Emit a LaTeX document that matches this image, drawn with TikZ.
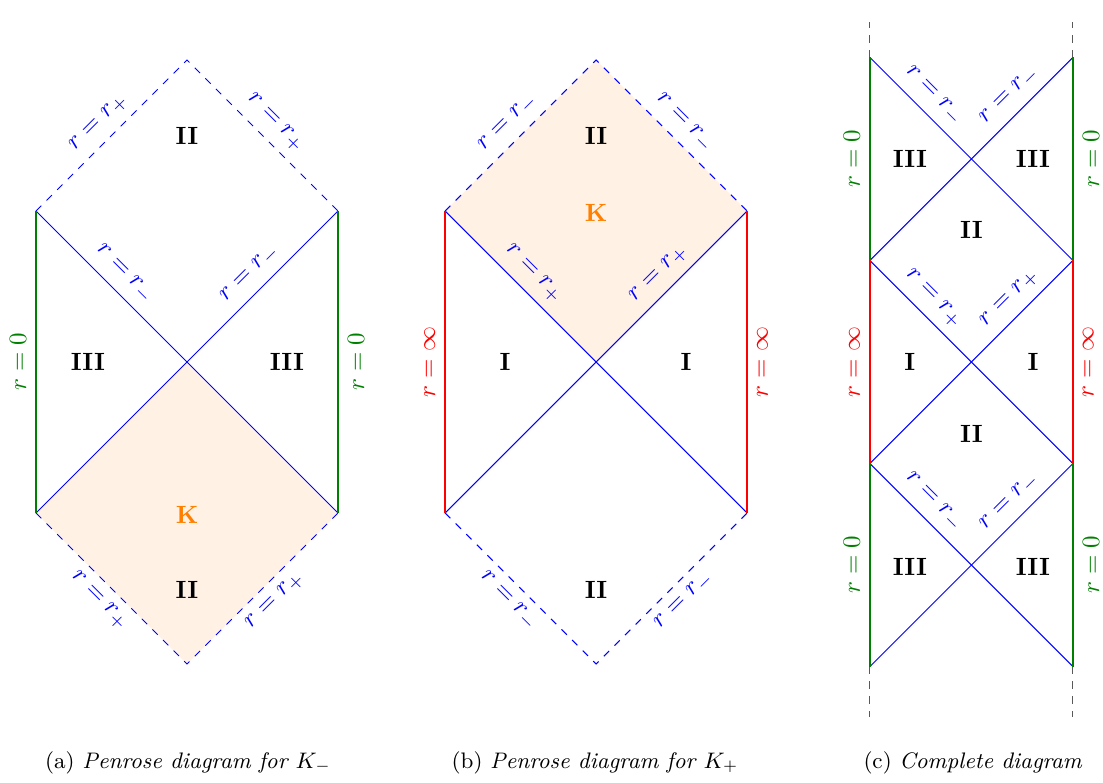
\documentclass[tikz,border=0pt]{standalone}
\usepackage{xcolor}
\usepackage{tikz}

\begin{document}
\begin{tikzpicture}[x=2.127cm, y=2.127cm,
    hor/.style={blue},
    hordash/.style={blue, dashed},
    rzero/.style={green!50!black, thick},
    rinf/.style={red, thick},
    ext/.style={gray!70!black, dashed},
    lab/.style={midway, sloped, inner sep=3.6pt},
    reg/.style={font=\bfseries},
    kfill/.style={fill=orange!10}]

    \useasboundingbox (-1.2384,-2.788) rectangle (6.0662,2.3974);

    % (a) Penrose diagram for K_-
    \coordinate (aT) at (0,2);
    \coordinate (aUL) at (-1,1);
    \coordinate (aUR) at (1,1);
    \coordinate (aC) at (0,0);
    \coordinate (aLL) at (-1,-1);
    \coordinate (aLR) at (1,-1);
    \coordinate (aB) at (0,-2);

    \fill[kfill] (aLL) -- (aC) -- (aLR) -- (aB) -- cycle;
    \draw[hordash] (aUL) -- node[lab, above] (a1) {$r=r_+$} (aT)
        -- node[lab, above] (a2) {$r=r_+$} (aUR);
    \draw[hordash] (aLL) -- node[lab, below] (a3) {$r=r_+$} (aB)
        -- node[lab, below] (a4) {$r=r_+$} (aLR);
    \draw[hor] (aUL) -- node[lab, above] (a5) {$r=r_-$} (aC) -- (aLR);
    \draw[hor] (aLL) -- (aC) -- node[lab, above] (a6) {$r=r_-$} (aUR);
    \draw[rzero] (aLL) -- node[lab, above] (a7) {$r=0$} (aUL);
    \draw[rzero] (aLR) -- node[lab, below] (a8) {$r=0$} (aUR);

    \node[reg] (aII) at (0,1.5) {II};
    \node[reg] (aIIIl) at (-0.656,0) {III};
    \node[reg] (aIIIr) at (0.662,0) {III};
    \node[reg, text=orange] (aK) at (0,-1.01) {K};
    \node[reg] (aIIb) at (0,-1.51) {II};

    % (b) Penrose diagram for K_+
    \begin{scope}[shift={(2.709,0)}]
        \coordinate (bT) at (0,2);
        \coordinate (bUL) at (-1,1);
        \coordinate (bUR) at (1,1);
        \coordinate (bC) at (0,0);
        \coordinate (bLL) at (-1,-1);
        \coordinate (bLR) at (1,-1);
        \coordinate (bB) at (0,-2);

        \fill[kfill] (bUL) -- (bT) -- (bUR) -- (bC) -- cycle;
        \draw[hordash] (bUL) -- node[lab, above] (b1) {$r=r_-$} (bT)
            -- node[lab, above] (b2) {$r=r_-$} (bUR);
        \draw[hordash] (bLL) -- node[lab, below] (b3) {$r=r_-$} (bB)
            -- node[lab, below] (b4) {$r=r_-$} (bLR);
        \draw[hor] (bUL) -- node[lab, above] (b5) {$r=r_+$} (bC) -- (bLR);
        \draw[hor] (bLL) -- (bC) -- node[lab, above] (b6) {$r=r_+$} (bUR);
        \draw[rinf] (bLL) -- node[lab, above] (b7) {$r=\infty$} (bUL);
        \draw[rinf] (bLR) -- node[lab, below] (b8) {$r=\infty$} (bUR);

        \node[reg] (bII) at (0,1.5) {II};
        \node[reg, text=orange] (bK) at (0,0.99) {K};
        \node[reg] (bIl) at (-0.603,0) {I};
        \node[reg] (bIr) at (0.596,0) {I};
        \node[reg] (bIIb) at (0,-1.51) {II};
    \end{scope}

    % (c) Complete diagram
    \begin{scope}[shift={(5.195,0)}, scale=0.6722]
        \foreach \y in {3,1,-1,-3} {
            \coordinate (cL\y) at (-1,\y);
            \coordinate (cR\y) at (1,\y);
        }
        \coordinate (cX2) at (0,2);
        \coordinate (cX0) at (0,0);
        \coordinate (cXm) at (0,-2);
        \coordinate (cLtop) at (-1,3.35);
        \coordinate (cRtop) at (1,3.35);
        \coordinate (cLbot) at (-1,-3.5);
        \coordinate (cRbot) at (1,-3.5);

        \draw[ext] (cL3) -- (cLtop);
        \draw[ext] (cR3) -- (cRtop);
        \draw[ext] (cL-3) -- (cLbot);
        \draw[ext] (cR-3) -- (cRbot);

        \draw[hor] (cL3) -- node[lab, above] (c1) {$r=r_-$} (cX2) -- (cR1);
        \draw[hor] (cL1) -- (cX2) -- node[lab, above] (c2) {$r=r_-$} (cR3);
        \draw[hor] (cL1) -- node[lab, above] (c3) {$r=r_+$} (cX0) -- (cR-1);
        \draw[hor] (cL-1) -- (cX0) -- node[lab, above] (c4) {$r=r_+$} (cR1);
        \draw[hor] (cL-1) -- node[lab, above] (c5) {$r=r_-$} (cXm) -- (cR-3);
        \draw[hor] (cL-3) -- (cXm) -- node[lab, above] (c6) {$r=r_-$} (cR-1);

        \draw[rzero] (cL1) -- node[lab, above] (c7) {$r=0$} (cL3);
        \draw[rzero] (cR1) -- node[lab, below] (c8) {$r=0$} (cR3);
        \draw[rinf] (cL-1) -- node[lab, above] (c9) {$r=\infty$} (cL1);
        \draw[rinf] (cR-1) -- node[lab, below] (c10) {$r=\infty$} (cR1);
        \draw[rzero] (cL-3) -- node[lab, above] (c11) {$r=0$} (cL-1);
        \draw[rzero] (cR-3) -- node[lab, below] (c12) {$r=0$} (cR-1);

        \node[reg] (cIIIa) at (-0.606,2) {III};
        \node[reg] (cIIIb) at (0.606,2) {III};
        \node[reg] (cII) at (0,1.3) {II};
        \node[reg] (cIl) at (-0.606,0) {I};
        \node[reg] (cIr) at (0.606,0) {I};
        \node[reg] (cIIb) at (0,-0.71) {II};
        \node[reg] (cIIIc) at (-0.606,-2.02) {III};
        \node[reg] (cIIId) at (0.606,-2.02) {III};
    \end{scope}

    % captions
    \node[anchor=base, font=\small] (capa) at (0.007,-2.689) {(a) \textit{Penrose diagram for $K_-$}};
    \node[anchor=base, font=\small] (capb) at (2.702,-2.689) {(b) \textit{Penrose diagram for $K_+$}};
    \node[anchor=base, font=\small] (capc) at (5.205,-2.689) {(c) \textit{Complete diagram}};
\end{tikzpicture}
\end{document}
